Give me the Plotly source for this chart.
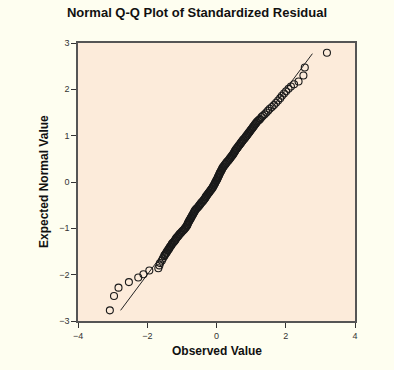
import plotly.graph_objects as go

# Observed value (x) and expected normal value (y) for each residual, read from the picture
# lower tail
observed_low = [-3.08, -2.96, -2.83, -2.53, -2.26, -2.11, -1.94, -1.68, -1.65, -1.63, -1.58, -1.55]
expected_low = [-2.77, -2.46, -2.28, -2.16, -2.06, -1.99, -1.91, -1.86, -1.80, -1.75, -1.70, -1.65]

# dense middle of the curve
observed_mid = [
    -1.51, -1.50, -1.48, -1.46, -1.44, -1.43, -1.41, -1.39, -1.37, -1.36,
    -1.34, -1.32, -1.30, -1.29, -1.27, -1.24, -1.22, -1.20, -1.18, -1.17,
    -1.15, -1.12, -1.10, -1.08, -1.06, -1.03, -1.01, -0.98, -0.96, -0.93,
    -0.91, -0.89, -0.87, -0.85, -0.84, -0.83, -0.82, -0.80, -0.79, -0.77,
    -0.76, -0.74, -0.73, -0.71, -0.70, -0.68, -0.67, -0.65, -0.64, -0.62,
    -0.61, -0.58, -0.56, -0.53, -0.51, -0.49, -0.47, -0.45, -0.43, -0.40,
    -0.38, -0.36, -0.34, -0.32, -0.31, -0.29, -0.27, -0.25, -0.23, -0.21,
    -0.19, -0.17, -0.15, -0.13, -0.11, -0.10, -0.08, -0.07, -0.05, -0.04,
    -0.03, -0.01, 0.00, 0.02, 0.03, 0.04, 0.05, 0.07, 0.08, 0.09,
    0.10, 0.12, 0.13, 0.15, 0.16, 0.17, 0.19, 0.21, 0.23, 0.25,
    0.27, 0.29, 0.31, 0.34, 0.36, 0.38, 0.40, 0.42, 0.44, 0.46,
    0.48, 0.50, 0.51, 0.53, 0.54, 0.56, 0.58, 0.60, 0.62, 0.64,
    0.66, 0.68, 0.70, 0.72, 0.74, 0.76, 0.78, 0.81, 0.83, 0.85,
    0.87, 0.89, 0.91, 0.93, 0.95, 0.97, 0.99, 1.01, 1.03, 1.05,
    1.07, 1.09, 1.11, 1.13, 1.15, 1.17, 1.20, 1.23, 1.26,
]
expected_mid = [
    -1.60, -1.58, -1.56, -1.54, -1.52, -1.50, -1.48, -1.46, -1.44, -1.42,
    -1.40, -1.38, -1.36, -1.34, -1.32, -1.30, -1.28, -1.26, -1.24, -1.22,
    -1.20, -1.18, -1.16, -1.14, -1.12, -1.10, -1.08, -1.06, -1.04, -1.02,
    -1.00, -0.98, -0.96, -0.94, -0.92, -0.90, -0.88, -0.86, -0.84, -0.82,
    -0.80, -0.78, -0.76, -0.74, -0.72, -0.70, -0.68, -0.66, -0.64, -0.62,
    -0.60, -0.58, -0.56, -0.54, -0.52, -0.50, -0.48, -0.46, -0.44, -0.42,
    -0.40, -0.38, -0.36, -0.34, -0.32, -0.30, -0.28, -0.26, -0.24, -0.22,
    -0.20, -0.18, -0.16, -0.14, -0.12, -0.10, -0.08, -0.06, -0.04, -0.02,
    0.00, 0.02, 0.04, 0.06, 0.08, 0.10, 0.12, 0.14, 0.16, 0.18,
    0.20, 0.22, 0.24, 0.26, 0.28, 0.30, 0.32, 0.34, 0.36, 0.38,
    0.40, 0.42, 0.44, 0.46, 0.48, 0.50, 0.52, 0.54, 0.56, 0.58,
    0.60, 0.62, 0.64, 0.66, 0.68, 0.70, 0.72, 0.74, 0.76, 0.78,
    0.80, 0.82, 0.84, 0.86, 0.88, 0.90, 0.92, 0.94, 0.96, 0.98,
    1.00, 1.02, 1.04, 1.06, 1.08, 1.10, 1.12, 1.14, 1.16, 1.18,
    1.20, 1.22, 1.24, 1.26, 1.28, 1.30, 1.32, 1.34, 1.36,
]

# upper tail
observed_high = [1.30, 1.34, 1.39, 1.44, 1.49, 1.54, 1.60, 1.66, 1.72, 1.78, 1.84, 1.89,
                 1.95, 2.01, 2.08, 2.15, 2.24, 2.37, 2.51, 2.55, 3.19]
expected_high = [1.40, 1.43, 1.46, 1.50, 1.54, 1.58, 1.62, 1.66, 1.71, 1.76, 1.81, 1.86,
                 1.91, 1.96, 2.01, 2.06, 2.11, 2.17, 2.30, 2.47, 2.79]

observed = observed_low + observed_mid + observed_high
expected = expected_low + expected_mid + expected_high

# Reference line (expected = observed) end values
ref_line = [-2.77, 2.77]

x_ticks = [-4, -2, 0, 2, 4]
y_ticks = [-3, -2, -1, 0, 1, 2, 3]

FONT = "Liberation Sans, Arial, sans-serif"

fig = go.Figure()
fig.add_trace(go.Scatter(
    x=ref_line, y=ref_line, mode="lines",
    line=dict(color="#222222", width=1), hoverinfo="skip", showlegend=False,
))
fig.add_trace(go.Scatter(
    x=observed, y=expected, mode="markers",
    marker=dict(symbol="circle-open", size=7, color="#1a1a1a", line=dict(width=1.1)),
    showlegend=False,
))

axis_common = dict(
    showgrid=False, zeroline=False, showline=True, mirror=True,
    linecolor="#555555", linewidth=1.5,
    ticks="outside", ticklen=5, tickwidth=1.2, tickcolor="#333333",
    tickfont=dict(family=FONT, size=9, color="#333333"),
)

fig.update_layout(
    width=394, height=370,
    margin=dict(l=78, r=39, t=43, b=49),
    paper_bgcolor="#FEFEF0",
    plot_bgcolor="#FCEBDA",
    title=dict(
        text="<b>Normal Q-Q Plot of Standardized Residual</b>",
        x=0.5, xanchor="center", y=1 - 12 / 370, yanchor="middle",
        font=dict(family=FONT, size=13, color="#111111"),
    ),
    xaxis=dict(range=[-4, 4], tickvals=x_ticks, **axis_common),
    yaxis=dict(range=[-3, 3], tickvals=y_ticks, **axis_common),
    annotations=[
        dict(text="<b>Observed Value</b>", xref="paper", yref="paper",
             x=0.5, y=-30 / 278, xanchor="center", yanchor="middle", showarrow=False,
             font=dict(family=FONT, size=12, color="#111111")),
        dict(text="<b>Expected Normal Value</b>", xref="paper", yref="paper",
             x=-34 / 277, y=0.5, xanchor="center", yanchor="middle", showarrow=False,
             textangle=-90,
             font=dict(family=FONT, size=12, color="#111111")),
    ],
)

fig.write_html(
    "out.html",
    config={"displayModeBar": False},
    post_script="document.body.style.margin='0';document.body.style.background='#FEFEF0';",
)
